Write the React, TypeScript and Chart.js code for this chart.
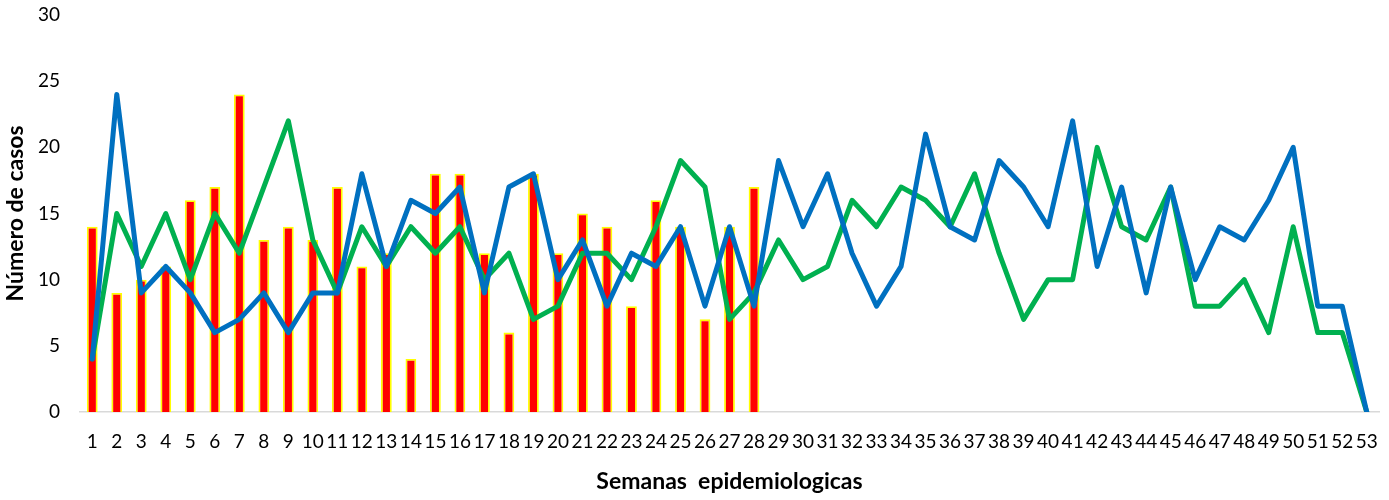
import React, { useEffect, useRef } from "react";
import { Chart, registerables } from "chart.js";

Chart.register(...registerables);

const weeks: string[] = Array.from({ length: 53 }, (_, i) => String(i + 1));

const barValues: number[] = [
  14, 9, 10, 11, 16, 17, 24, 13, 14, 13, 17, 11, 12, 4, 18, 18, 12, 6, 18, 12,
  15, 14, 8, 16, 14, 7, 14, 17,
];

const blueValues: number[] = [
  4, 24, 9, 11, 9, 6, 7, 9, 6, 9, 9, 18, 11, 16, 15, 17, 9, 17, 18, 10,
  13, 8, 12, 11, 14, 8, 14, 8, 19, 14, 18, 12, 8, 11, 21, 14, 13, 19, 17, 14,
  22, 11, 17, 9, 17, 10, 14, 13, 16, 20, 8, 8, 0,
];

const greenValues: number[] = [
  4, 15, 11, 15, 10, 15, 12, 17, 22, 13, 9, 14, 11, 14, 12, 14, 10, 12, 7, 8,
  12, 12, 10, 14, 19, 17, 7, 9, 13, 10, 11, 16, 14, 17, 16, 14, 18, 12, 7, 10,
  10, 20, 14, 13, 17, 8, 8, 10, 6, 14, 6, 6, 0,
];

const yTicks: number[] = [0, 5, 10, 15, 20, 25, 30];

export default function App() {
  const ref = useRef<HTMLCanvasElement | null>(null);

  useEffect(() => {
    if (!ref.current) return;
    const font = "Lato, 'Liberation Sans', sans-serif";
    const chart = new Chart(ref.current, {
      type: "bar",
      data: {
        labels: weeks,
        datasets: [
          {
            type: "line",
            label: "Azul",
            data: blueValues,
            borderColor: "#0070C0",
            backgroundColor: "#0070C0",
            borderWidth: 5,
            pointRadius: 0,
            tension: 0,
            borderJoinStyle: "round",
            borderCapStyle: "round",
            order: 0,
          },
          {
            type: "line",
            label: "Verde",
            data: greenValues,
            borderColor: "#00B050",
            backgroundColor: "#00B050",
            borderWidth: 5,
            pointRadius: 0,
            tension: 0,
            borderJoinStyle: "round",
            borderCapStyle: "round",
            order: 1,
          },
          {
            type: "bar",
            label: "Casos",
            data: barValues,
            backgroundColor: "#FF0000",
            borderColor: "#FFFF00",
            borderWidth: 1.8,
            categoryPercentage: 1,
            barPercentage: 0.44,
            order: 2,
          },
        ],
      },
      options: {
        animation: false,
        responsive: true,
        maintainAspectRatio: false,
        layout: { padding: { left: 0, right: 10, top: 15, bottom: 0 } },
        plugins: {
          legend: { display: false },
          tooltip: { enabled: false },
        },
        scales: {
          x: {
            grid: { display: false },
            border: { display: true, color: "#D9D9D9", width: 1.5 },
            afterFit: (scale: any) => {
              scale.height = 88;
            },
            ticks: {
              autoSkip: false,
              maxRotation: 0,
              minRotation: 0,
              color: "#000000",
              padding: 10,
              font: { family: font, size: 19 },
            },
            title: {
              display: true,
              text: "Semanas  epidemiologicas",
              color: "#000000",
              font: { family: font, size: 23, weight: "bold" },
              padding: { top: 0, bottom: 5 },
            },
          },
          y: {
            min: 0,
            max: 30,
            afterBuildTicks: (scale: any) => {
              scale.ticks = yTicks.map((v) => ({ value: v }));
            },
            afterFit: (scale: any) => {
              scale.width = 80;
              scale.paddingTop = 0;
              scale.paddingBottom = 0;
            },
            grid: { display: false, drawTicks: false },
            border: { display: false },
            ticks: {
              color: "#000000",
              padding: 20,
              font: { family: font, size: 19 },
            },
            title: {
              display: true,
              text: "Número de casos",
              color: "#000000",
              font: { family: font, size: 23, weight: "bold" },
              padding: { top: 2, bottom: 0 },
            },
          },
        },
      },
    });
    return () => chart.destroy();
  }, []);

  return (
    <div style={{ position: "fixed", left: 0, top: 0, width: 1389, height: 500, background: "#fff" }}>
      <canvas ref={ref} />
    </div>
  );
}
